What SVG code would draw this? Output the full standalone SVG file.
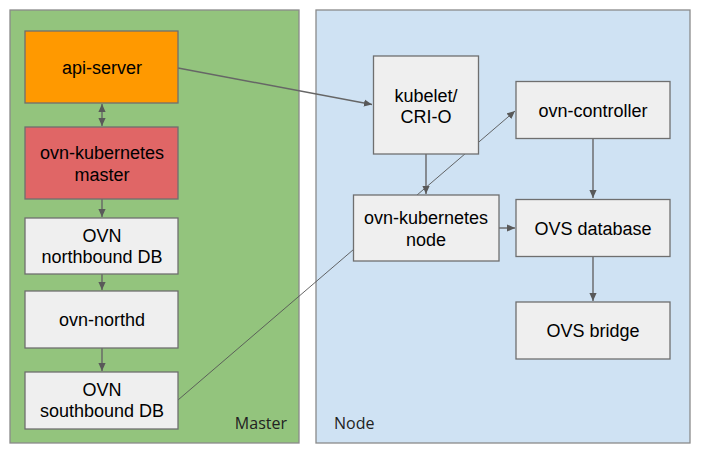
<svg xmlns="http://www.w3.org/2000/svg" width="706" height="457" viewBox="0 0 706 457">
<defs>
<marker id="ah" viewBox="0 0 10 10" refX="10" refY="5" markerWidth="8" markerHeight="8" markerUnits="userSpaceOnUse" orient="auto-start-reverse">
<path d="M0,0.5 L10,5 L0,9.5 z" fill="#595959"/>
</marker>
</defs>
<style>
.cont{stroke:#8a8a8a;stroke-width:1.3}
.box{fill:#efefef;stroke:#6f6f6f;stroke-width:1.3}
.t{font-family:"Liberation Sans",Arial,sans-serif;font-size:18px;fill:#000;text-anchor:middle;dominant-baseline:central}
.cl{font-family:"Open Sans","DejaVu Sans",sans-serif;font-size:16px;fill:#222}
.c{stroke:#666;stroke-width:1.4;fill:none}
.thin{stroke:#555;stroke-width:0.9;fill:none}
</style>
<rect width="706" height="457" fill="#fff"/>
<g id="master-cluster">
<rect class="cont" x="10" y="10" width="289" height="433" fill="#93c47d"/>
<text class="cl" x="287" y="429" text-anchor="end">Master</text>
</g>
<g id="node-cluster">
<rect class="cont" x="316" y="10" width="374" height="433" fill="#cfe2f3"/>
<text class="cl" x="334" y="429">Node</text>
</g>
<g id="connectors">
<line class="thin" x1="178" y1="400" x2="515" y2="111" marker-end="url(#ah)"/>
<line class="c" x1="178" y1="68" x2="372" y2="104.5" marker-end="url(#ah)"/>
<line class="c" x1="102" y1="104" x2="102" y2="126" marker-start="url(#ah)" marker-end="url(#ah)"/>
<line class="c" x1="102" y1="199" x2="102" y2="217" marker-end="url(#ah)"/>
<line class="c" x1="102" y1="274" x2="102" y2="290" marker-end="url(#ah)"/>
<line class="c" x1="102" y1="348" x2="102" y2="371" marker-end="url(#ah)"/>
<line class="c" x1="426" y1="154" x2="426" y2="194" marker-end="url(#ah)"/>
<line class="c" x1="499" y1="228" x2="515" y2="228" marker-end="url(#ah)"/>
<line class="c" x1="593" y1="138" x2="593" y2="198" marker-end="url(#ah)"/>
<line class="c" x1="593" y1="257" x2="593" y2="301" marker-end="url(#ah)"/>
</g>
<g id="api-server">
<rect class="box" x="25" y="31" width="153" height="72" style="fill:#ff9900"/>
<text class="t" x="102" y="68">api-server</text>
</g>
<g id="ovn-kubernetes-master">
<rect class="box" x="25" y="127" width="153" height="72" style="fill:#e06666"/>
<text class="t" x="102" y="153">ovn-kubernetes</text>
<text class="t" x="102" y="175">master</text>
</g>
<g id="ovn-northbound-db">
<rect class="box" x="25" y="218" width="153" height="56"/>
<text class="t" x="102" y="236">OVN</text>
<text class="t" x="102" y="257">northbound DB</text>
</g>
<g id="ovn-northd">
<rect class="box" x="25" y="291" width="153" height="57"/>
<text class="t" x="102" y="320">ovn-northd</text>
</g>
<g id="ovn-southbound-db">
<rect class="box" x="25" y="372" width="153" height="57"/>
<text class="t" x="102" y="390">OVN</text>
<text class="t" x="102" y="411">southbound DB</text>
</g>
<g id="kubelet">
<rect class="box" x="373.5" y="56" width="105" height="98"/>
<text class="t" x="426" y="96">kubelet/</text>
<text class="t" x="426" y="117">CRI-O</text>
</g>
<g id="ovn-controller">
<rect class="box" x="516" y="81.5" width="154" height="57"/>
<text class="t" x="593" y="111">ovn-controller</text>
</g>
<g id="ovn-kubernetes-node">
<rect class="box" x="353.5" y="195" width="145.5" height="66"/>
<text class="t" x="426" y="218">ovn-kubernetes</text>
<text class="t" x="426" y="240">node</text>
</g>
<g id="ovs-database">
<rect class="box" x="516" y="199.5" width="154" height="57"/>
<text class="t" x="593" y="229">OVS database</text>
</g>
<g id="ovs-bridge">
<rect class="box" x="516" y="302" width="154" height="57"/>
<text class="t" x="593" y="331">OVS bridge</text>
</g>
</svg>
